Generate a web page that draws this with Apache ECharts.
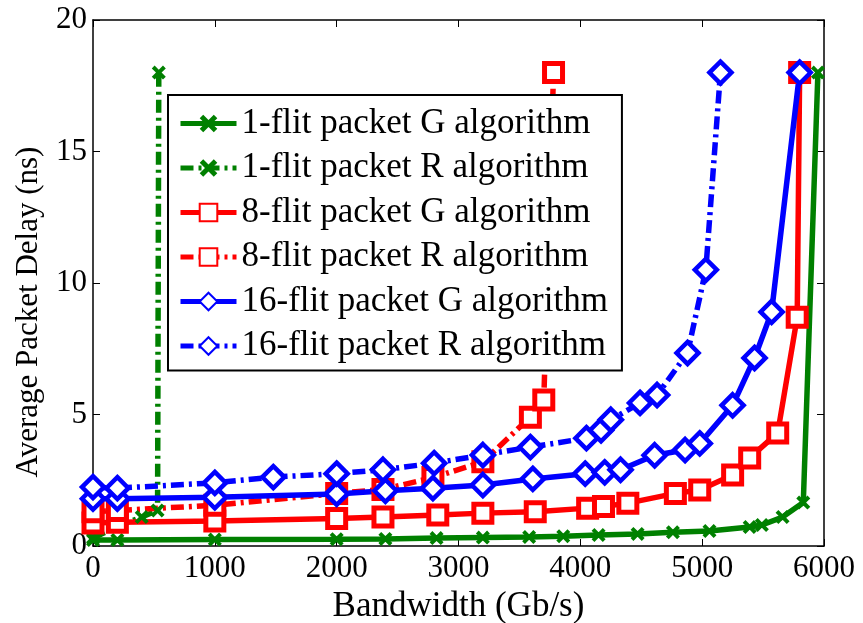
<!DOCTYPE html>
<html>
<head>
<meta charset="utf-8">
<script src="https://cdn.jsdelivr.net/npm/echarts@6/dist/echarts.min.js"></script>
<style>html,body{margin:0;padding:0;background:#fff}#c{width:863px;height:623px}</style>
</head>
<body>
<div id="c"></div>
<script>
var seriesNames = ['1-flit packet G algorithm','1-flit packet R algorithm','8-flit packet G algorithm','8-flit packet R algorithm','16-flit packet G algorithm','16-flit packet R algorithm'];
var xTicks = [0,1000,2000,3000,4000,5000,6000];
var yTicks = [0,5,10,15,20];

var g1 = [[0,0.23],[200,0.23],[1000,0.25],[2000,0.26],[2400,0.27],[2820,0.3],[3200,0.32],[3580,0.34],[3860,0.37],[4150,0.42],[4470,0.46],[4760,0.52],[5060,0.57],[5390,0.72],[5490,0.8],[5660,1.1],[5830,1.65],[5950,18]];
var r1 = [[0,0.3],[200,0.75],[400,1.1],[530,1.35],[540,18]];
var g8 = [[0,0.87],[200,0.9],[1000,0.95],[2000,1.05],[2380,1.1],[2830,1.18],[3200,1.25],[3630,1.3],[4060,1.44],[4190,1.5],[4390,1.63],[4780,2.0],[4980,2.13],[5250,2.7],[5390,3.35],[5620,4.3],[5780,8.7],[5800,18]];
var r8 = [[0,1.3],[200,1.35],[1000,1.55],[2000,2.0],[2380,2.15],[2790,2.6],[3200,3.2],[3590,4.9],[3700,5.55],[3780,18]];
var g16 = [[0,1.8],[200,1.8],[1000,1.85],[2000,1.98],[2400,2.1],[2790,2.2],[3200,2.32],[3610,2.55],[4040,2.75],[4200,2.8],[4330,2.9],[4610,3.45],[4860,3.65],[4980,3.9],[5250,5.35],[5430,7.15],[5570,8.9],[5800,18]];
var r16 = [[0,2.24],[200,2.2],[1000,2.4],[1480,2.62],[2000,2.75],[2380,2.9],[2800,3.15],[3200,3.46],[3590,3.76],[4050,4.1],[4170,4.4],[4250,4.8],[4490,5.44],[4630,5.74],[4880,7.34],[5030,10.5],[5150,18]];

var GREEN = '#008000', RED = '#ff0000', BLUE = '#0000ff';
var XPATH = 'path://M0,2 L2,0 L5,3 L8,0 L10,2 L7,5 L10,8 L8,10 L5,7 L2,10 L0,8 L3,5 Z';
var DASHDOT = [13,5,3,5];

function mk(name, data, color, dashed, symbol, size, hollow, bw) {
  return {
    name: name, type: 'line', data: data,
    symbol: symbol, symbolSize: size, showAllSymbol: true,
    lineStyle: {color: color, width: 5.5, type: dashed ? DASHDOT : 'solid'},
    itemStyle: hollow ? {color: '#fff', borderColor: color, borderWidth: bw} : {color: color, borderColor: color, borderWidth: 0},
    emphasis: {disabled: true},
    animation: false, z: 3
  };
}

var chart = echarts.init(document.getElementById('c'), null, {renderer: 'canvas'});
var font = 'Liberation Serif';
chart.setOption({
  backgroundColor: '#fff',
  animation: false,
  grid: {left: 93, right: 39, top: 20, bottom: 77, containLabel: false, outerBoundsMode: 'none'},
  legend: {
    orient: 'vertical', left: 168, top: 95,
    backgroundColor: '#fff', borderColor: '#000', borderWidth: 2,
    padding: [11, 14, 7, 10], itemGap: 9.5, itemWidth: 56, itemHeight: 22,
    lineStyle: {width: 5},
    textStyle: {fontFamily: font, fontSize: 35, color: '#000', padding: [0,0,0,0]},
    data: seriesNames
  },
  xAxis: [{
    type: 'value', min: 0, max: 6000, interval: 1000,
    name: 'Bandwidth (Gb/s)', nameLocation: 'middle', nameGap: 42,
    nameTextStyle: {fontFamily: font, fontSize: 35, color: '#000'},
    axisLine: {onZero: false, lineStyle: {color: '#000', width: 1.5}},
    axisTick: {inside: true, length: 7, lineStyle: {color: '#000'}},
    axisLabel: {fontFamily: font, fontSize: 31, color: '#000', margin: 7, formatter: function (v) { return String(v); }},
    splitLine: {show: false}
  }, {
    type: 'value', position: 'top', min: 0, max: 6000, interval: 1000,
    axisLine: {onZero: false, lineStyle: {color: '#000', width: 1.5}},
    axisTick: {inside: true, length: 7, lineStyle: {color: '#000'}},
    axisLabel: {show: false}, splitLine: {show: false}
  }],
  yAxis: [{
    type: 'value', min: 0, max: 20, interval: 5,
    name: 'Average Packet Delay (ns)', nameLocation: 'middle', nameGap: 49,
    nameTextStyle: {fontFamily: font, fontSize: 31, color: '#000', padding: [0, 58, 0, 0]},
    axisLine: {show: true, onZero: false, lineStyle: {color: '#000', width: 1.5}},
    axisTick: {show: true, inside: true, length: 7, lineStyle: {color: '#000'}},
    axisLabel: {fontFamily: font, fontSize: 31, color: '#000', margin: 6},
    splitLine: {show: false}
  }, {
    type: 'value', position: 'right', min: 0, max: 20, interval: 5,
    axisLine: {show: true, onZero: false, lineStyle: {color: '#000', width: 1.5}},
    axisTick: {show: true, inside: true, length: 7, lineStyle: {color: '#000'}},
    axisLabel: {show: false}, splitLine: {show: false}
  }],
  series: [
    mk(seriesNames[0], g1, GREEN, false, XPATH, 14, false, 0),
    mk(seriesNames[1], r1, GREEN, true, XPATH, 14, false, 0),
    mk(seriesNames[2], g8, RED, false, 'rect', 18, true, 5),
    mk(seriesNames[3], r8, RED, true, 'rect', 18, true, 5),
    mk(seriesNames[4], g16, BLUE, false, 'diamond', 22, true, 4.5),
    mk(seriesNames[5], r16, BLUE, true, 'diamond', 22, true, 4.5)
  ]
});
</script>
</body>
</html>
